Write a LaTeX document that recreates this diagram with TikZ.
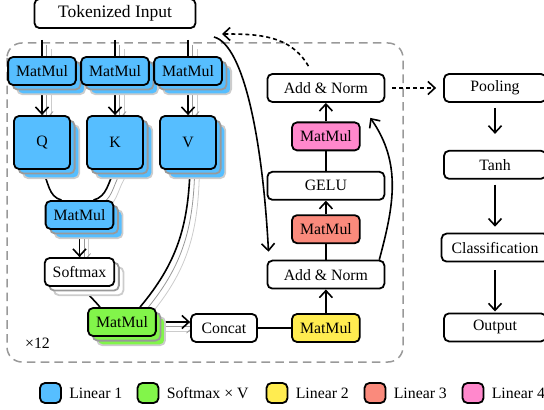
\documentclass[tikz,border=0pt]{standalone}
\usepackage{fontspec}
\setmainfont{Liberation Serif}
\usetikzlibrary{arrows.meta,positioning,shadows,backgrounds}
\definecolor{linA}{RGB}{86,190,255}
\definecolor{sfmV}{RGB}{130,245,74}
\definecolor{linB}{RGB}{255,236,80}
\definecolor{linC}{RGB}{250,138,124}
\definecolor{linD}{RGB}{255,136,204}
\tikzset{
  >={Straight Barb[length=3.5pt,width=6.5pt]},
  block/.style={draw,rounded corners=2.5pt,line width=0.9pt,fill=white,align=center,
    minimum height=14pt,inner xsep=4pt,font=\fontsize{7.9}{9}\selectfont},
  mm/.style={block,minimum width=32.5pt},
  wide/.style={block,minimum width=58.5pt},
  side/.style={block,minimum width=51pt},
  stacked/.style={fill=#1,
    copy shadow={shadow xshift=4.6pt,shadow yshift=-4.6pt,fill=#1,draw=gray!40},
    copy shadow={shadow xshift=2.3pt,shadow yshift=-2.3pt,fill=#1,draw=gray!80}},
  arrow/.style={->,line width=0.8pt},
  link/.style={line width=0.8pt},
  threeheads/.style={
    preaction={draw=gray!40,transform canvas={shift={(4.6pt,-4.6pt)}}},
    preaction={draw=gray!80,transform canvas={shift={(2.3pt,-2.3pt)}}}},
  back/.style={->,line width=0.8pt,dash pattern=on 2pt off 1.5pt},
  legendbox/.style={draw,rounded corners=2.5pt,line width=0.9pt,minimum width=10.5pt,minimum height=10pt},
}
\begin{document}
\begin{tikzpicture}[x=0.5pt,y=-0.5pt]
\useasboundingbox (0,0) rectangle (544,410);
% attention heads
\node[block,minimum width=80.5pt,minimum height=13pt,font=\fontsize{8.75}{10}\selectfont] (input) at (115,13.5) {Tokenized Input};
\node[mm,stacked=linA] (wq) at (42,71) {MatMul};
\node[mm,stacked=linA] (wk) at (115,71) {MatMul};
\node[mm,stacked=linA] (wv) at (188,71) {MatMul};
\node[block,stacked=linA,minimum width=28pt,minimum height=26.5pt,below=14.6pt of wq] (q) {Q};
\node[block,stacked=linA,minimum width=28pt,minimum height=26.5pt,below=14.6pt of wk] (k) {K};
\node[block,stacked=linA,minimum width=28pt,minimum height=26.5pt,below=14.6pt of wv] (v) {V};
\node[mm,stacked=linA] (qk) at (79.5,215) {MatMul};
\node[block,stacked=white,minimum width=33pt,below=13.6pt of qk] (soft) {Softmax};
\node[mm,stacked=sfmV] (sv) at (122,322) {MatMul};
\node[block,minimum width=33pt] (concat) at (224,328) {Concat};
% feed forward
\node[mm,fill=linB,right=16.6pt of concat] (proj) {MatMul};
\node[wide,above=11.8pt of proj] (norm1) {Add \& Norm};
\node[mm,fill=linC,above=7.8pt of norm1] (ffa) {MatMul};
\node[wide,above=6.8pt of ffa] (gelu) {GELU};
\node[mm,fill=linD,above=9.8pt of gelu] (ffb) {MatMul};
\node[wide,above=9.3pt of ffb] (norm2) {Add \& Norm};
% head
\node[side] (pool) at (495,88) {Pooling};
\node[side,below=23.5pt of pool] (tanh) {Tanh};
\node[block,inner xsep=5pt,below=26.5pt of tanh] (cls) {Classification};
\node[side,below=25pt of cls] (out) {Output};
\node[font=\fontsize{7.9}{9}\selectfont] (reps) at (37.5,343) {×12};
\coordinate (res) at (214,37);

\begin{pgfonlayer}{background}
\draw[gray!80,line width=0.75pt,dash pattern=on 4.3pt off 2.6pt,rounded corners=7.5pt] (7,43) rectangle (403,362);
\draw[link,threeheads,shorten <=5.5pt] (input.south -| wq) -- (wq.north);
\draw[link,threeheads,shorten <=5.5pt] (input.south -| wk) -- (wk.north);
\draw[link,threeheads,shorten <=5.5pt] (input.south -| wv) -- (wv.north);
\draw[arrow,threeheads] (wq) -- (q);
\draw[arrow,threeheads] (wk) -- (k);
\draw[arrow,threeheads] (wv) -- (v);
\draw[link] (q.south) to[out=-60,in=165] ([xshift=-9pt]qk.north);
\draw[link,threeheads] (k.south) to[out=-120,in=15] ([xshift=7pt]qk.north);
\draw[arrow,threeheads] (qk) -- (soft);
\draw[link] ([xshift=1.5pt]soft.south) to[out=-55,in=130] ([xshift=-11pt]sv.north);
\draw[link,threeheads] ([xshift=1pt]v.south) to[out=-92,in=50] ([xshift=9pt]sv.north);
\draw[arrow,threeheads] (sv.east) -- (sv.east -| concat.west);
\draw[link] (concat) -- (proj);
\draw[arrow] (proj) -- (norm1);
\draw[link] (norm1) -- (ffa);
\draw[arrow] (ffa) -- (gelu);
\draw[link] (gelu) -- (ffb);
\draw[arrow] (ffb) -- (norm2);
\draw[arrow] ([xshift=-3pt]norm1.north east) to[out=75,in=-55] ([xshift=-7.5pt,yshift=-7.5pt]norm2.south east);
\draw[arrow] (res) .. controls +(-15:16pt) and +(93:53pt) .. ([xshift=1pt,yshift=4pt]norm1.north west);
\draw[back] ([xshift=-8.75pt,yshift=3.5pt]norm2.north) to[out=120,in=0] ([xshift=4pt,yshift=1.5pt]res);
\draw[back,shorten <=3.5pt,shorten >=3.5pt] (norm2) -- (pool);
\draw[arrow,shorten <=2.5pt,shorten >=8pt] (pool) -- (tanh);
\draw[arrow,shorten <=2.5pt,shorten >=3pt] (tanh) -- (cls);
\draw[arrow,shorten <=4pt,shorten >=0.5pt] (cls) -- (out);
\end{pgfonlayer}

% legend
\foreach \c/\x/\t [count=\i] in {linA/50.5/Linear 1,sfmV/148/Softmax × V,linB/277/Linear 2,linC/375/Linear 3,linD/473/Linear 4}{
  \node[legendbox,fill=\c] (key\i) at (\x,393) {};
  \node[right=2.5pt of key\i,inner sep=1pt,font=\fontsize{7.9}{9}\selectfont] (keytext\i) {\t};
}
\end{tikzpicture}
\end{document}
